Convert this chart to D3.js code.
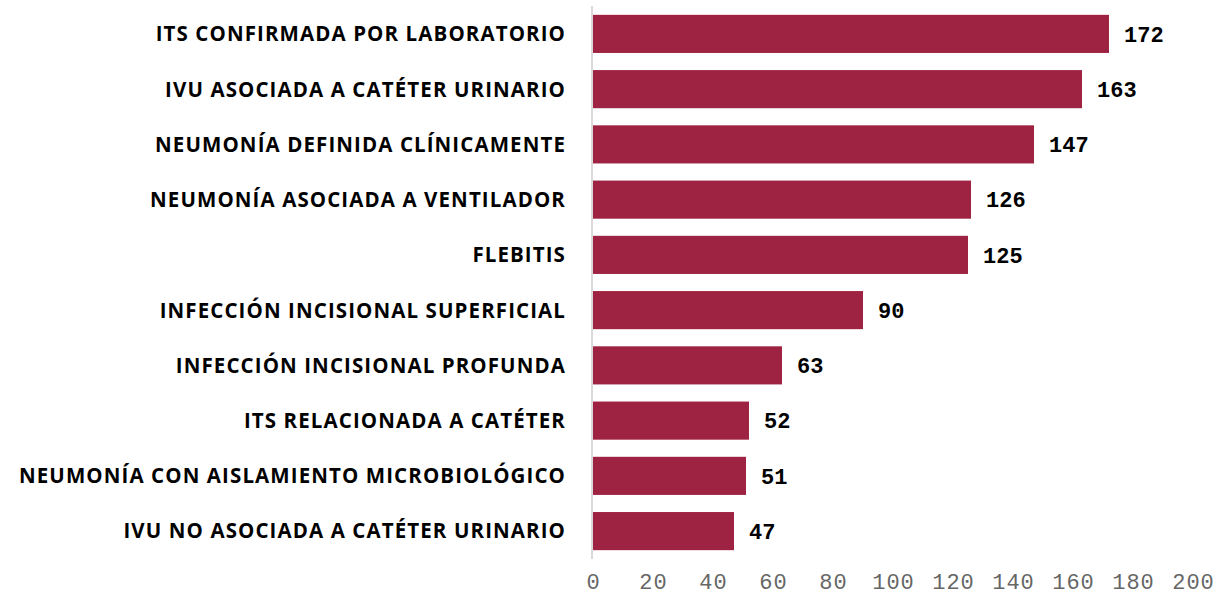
<!DOCTYPE html>
<html><head><meta charset="utf-8">
<script src="https://cdn.jsdelivr.net/npm/d3@7"></script>
<style>body{margin:0;background:#fff}svg{display:block}</style>
</head><body>
<svg id="chart" width="1223" height="596"></svg>
<script>
const categories = [
  "ITS CONFIRMADA POR LABORATORIO",
  "IVU ASOCIADA A CATÉTER URINARIO",
  "NEUMONÍA DEFINIDA CLÍNICAMENTE",
  "NEUMONÍA ASOCIADA A VENTILADOR",
  "FLEBITIS",
  "INFECCIÓN INCISIONAL SUPERFICIAL",
  "INFECCIÓN INCISIONAL PROFUNDA",
  "ITS RELACIONADA A CATÉTER",
  "NEUMONÍA CON AISLAMIENTO MICROBIOLÓGICO",
  "IVU NO ASOCIADA A CATÉTER URINARIO"
];
const values = [172, 163, 147, 126, 125, 90, 63, 52, 51, 47];
const xTicks = [0, 20, 40, 60, 80, 100, 120, 140, 160, 180, 200];

(function () {
const svg = d3.select("#chart");
const pLeft = 593, pRight = 1193, pTop = 6, pBottom = 559;

const x = d3.scaleLinear().domain([0, 200]).range([pLeft, pRight]);
const y = d3.scaleBand().domain(categories).range([pTop, pBottom]).paddingInner(0.31).paddingOuter(0.16);

svg.append("g").selectAll("rect").data(values).join("rect")
  .attr("x", x(0))
  .attr("y", (d, i) => y(categories[i]))
  .attr("width", d => x(d) - x(0))
  .attr("height", y.bandwidth())
  .attr("fill", "#9E2241");

svg.append("line").attr("x1", pLeft - 1).attr("x2", pLeft - 1).attr("y1", pTop).attr("y2", pBottom)
  .attr("stroke", "#d9d9d9").attr("stroke-width", 2);

svg.append("g").selectAll("text").data(categories).join("text")
  .attr("x", 566)
  .attr("y", d => y(d) + y.bandwidth() / 2)
  .attr("dy", "0.36em")
  .attr("text-anchor", "end")
  .attr("font-family", "'Open Sans', sans-serif")
  .attr("font-weight", "bold")
  .attr("font-size", "20.5px")
  .attr("letter-spacing", "1.1px")
  .attr("fill", "#000")
  .text(d => d);

svg.append("g").selectAll("text").data(values).join("text")
  .attr("x", d => x(d) + 15)
  .attr("y", (d, i) => y(categories[i]) + y.bandwidth() / 2)
  .attr("dy", "0.35em")
  .attr("font-family", "'Liberation Mono', monospace")
  .attr("font-weight", "bold")
  .attr("font-size", "22px")
  .attr("fill", "#000")
  .text(d => d);

const axis = d3.axisBottom(x).tickValues(xTicks).tickSize(0).tickPadding(0);
const ag = svg.append("g").attr("transform", `translate(0, 589)`).call(axis);
ag.select(".domain").remove();
ag.selectAll("text")
  .attr("y", 0)
  .attr("dy", 0)
  .attr("font-family", "'Liberation Mono', monospace")
  .attr("font-size", "22px")
  .attr("fill", "#666")
  .attr("letter-spacing", "1px");
})();
</script>
</body></html>
